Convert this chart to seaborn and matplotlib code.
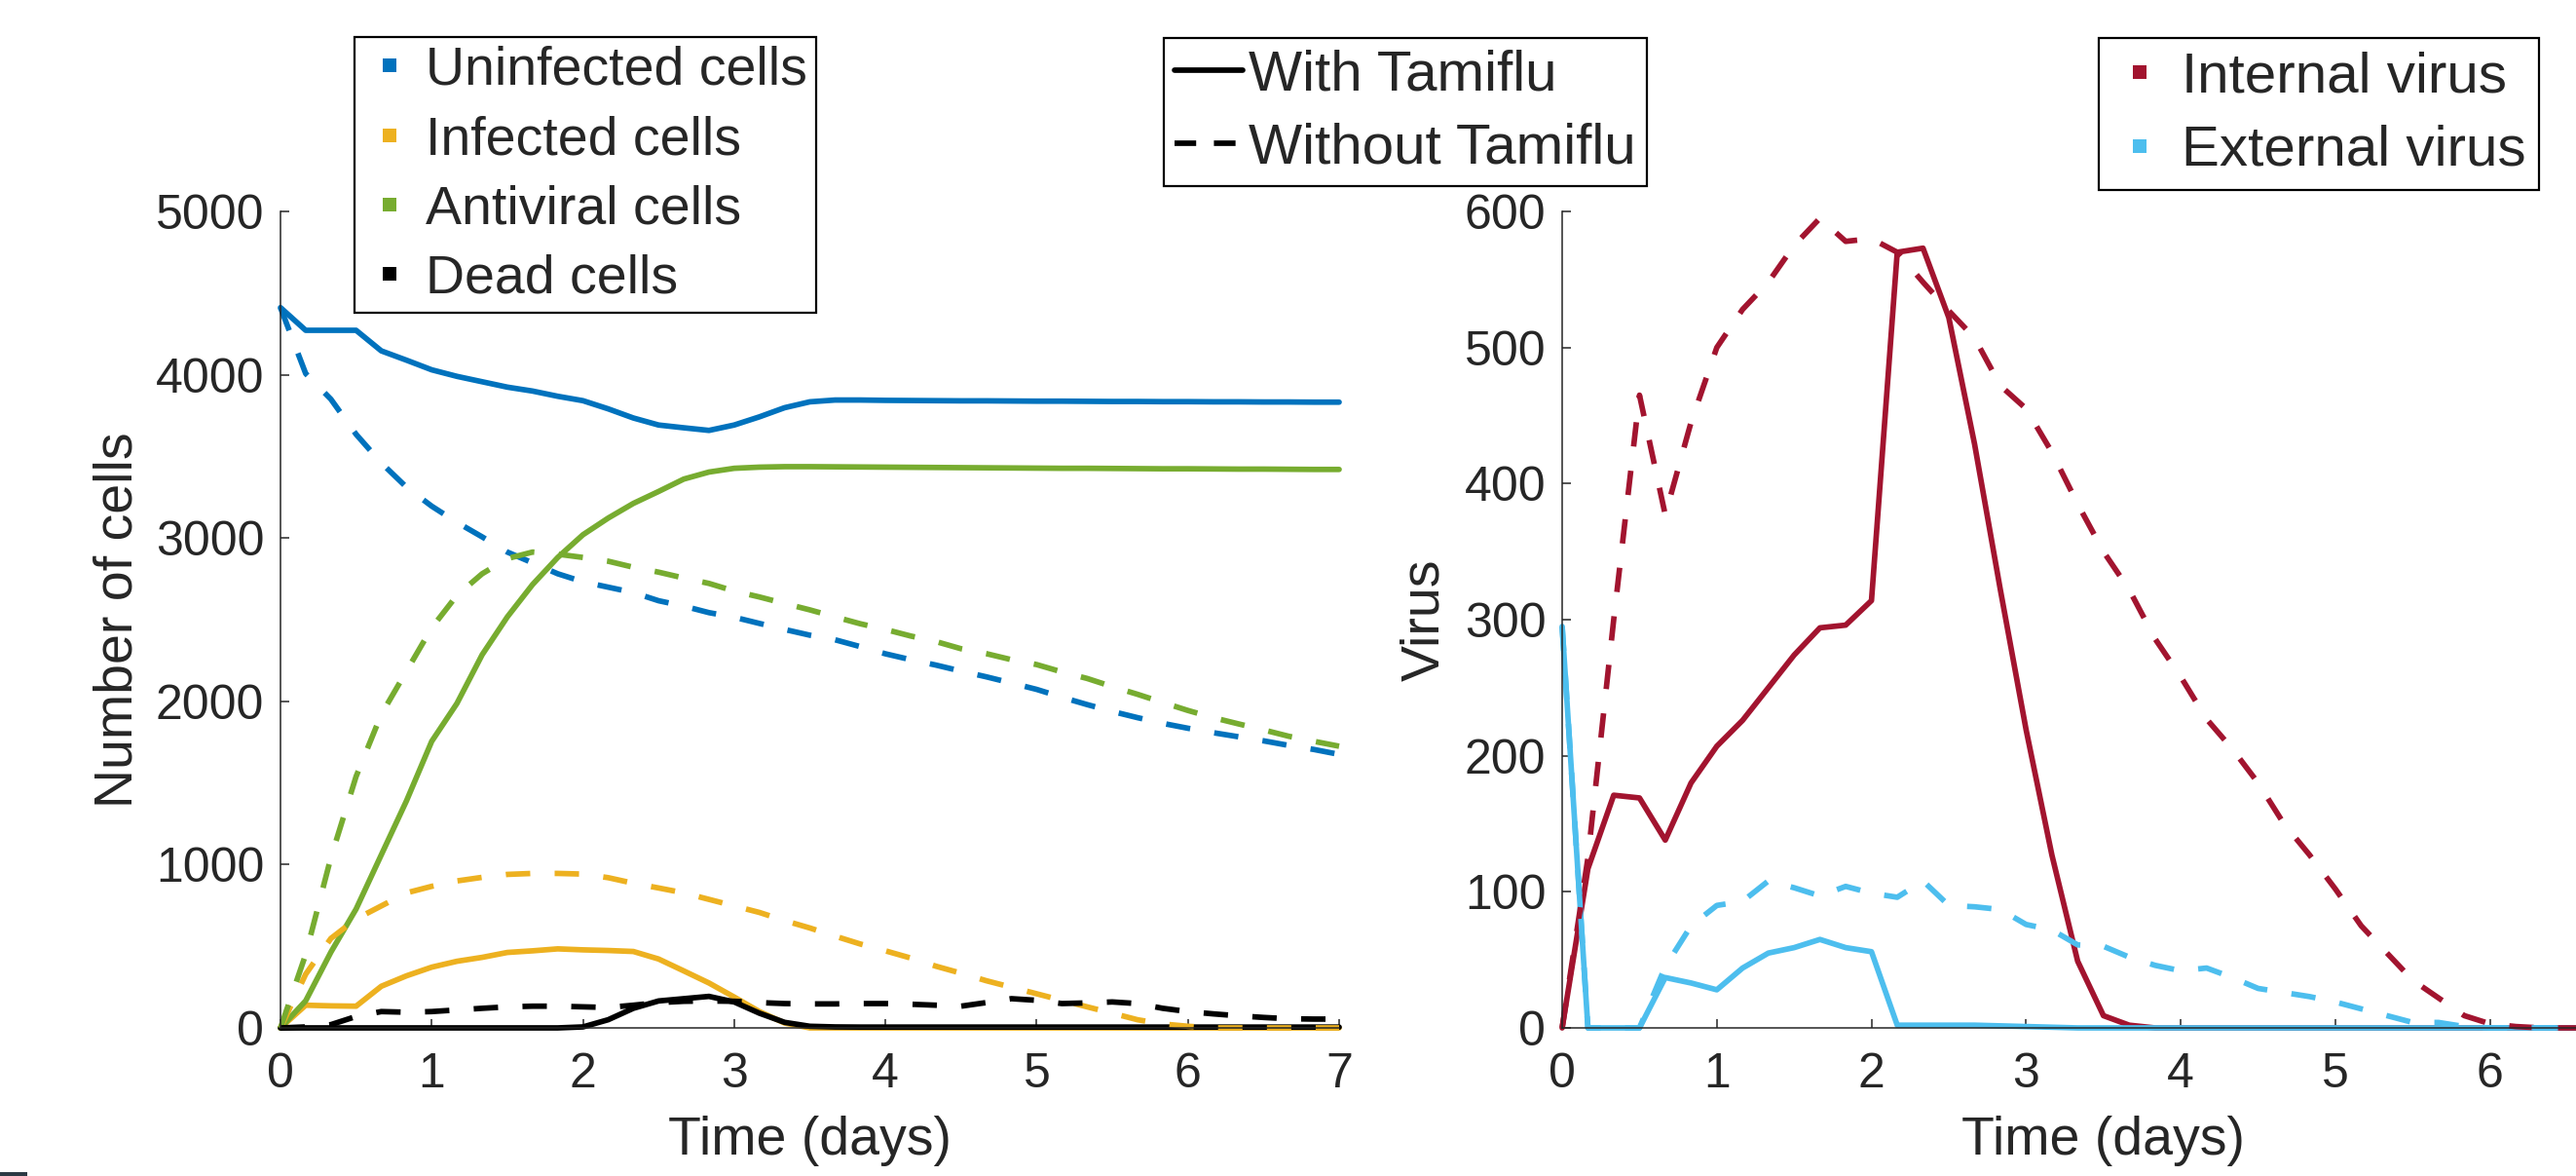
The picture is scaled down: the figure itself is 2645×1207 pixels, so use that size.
import numpy as np
import pandas as pd
import matplotlib
matplotlib.use("Agg")
import matplotlib.pyplot as plt
import seaborn as sns
from matplotlib.lines import Line2D
from matplotlib.patches import Rectangle

# ---------------- data ----------------
hours = [0, 4, 8, 12, 16, 20, 24, 28, 32, 36, 40, 44, 48, 52, 56, 60, 64, 68, 72, 76, 80, 84,
         88, 92, 96, 100, 104, 108, 112, 116, 120, 124, 128, 132, 136, 140, 144, 148, 152,
         156, 160, 164, 168]

cell_types = ["Uninfected cells", "Infected cells", "Antiviral cells", "Dead cells"]
virus_types = ["Internal virus", "External virus"]
treatments = ["With Tamiflu", "Without Tamiflu"]

uninfected_with = [4411, 4272, 4272, 4272, 4146, 4089, 4030, 3990, 3957, 3924, 3900, 3868, 3841,
                   3791, 3735, 3692, 3675, 3659, 3692, 3742, 3798, 3834, 3845, 3845, 3843, 3842,
                   3841, 3840, 3840, 3839, 3838, 3838, 3837, 3836, 3836, 3835, 3835, 3834, 3834,
                   3833, 3833, 3832, 3832]
infected_with = [0, 139, 135, 133, 255, 319, 372, 408, 432, 462, 472, 484, 478, 474, 468, 422,
                 349, 275, 189, 100, 30, 0, 0, 0, 0, 0, 0, 0, 0, 0, 0, 0, 0, 0, 0, 0, 0, 0, 0,
                 0, 0, 0, 0]
antiviral_with = [0, 166, 464, 728, 1060, 1391, 1755, 1987, 2285, 2517, 2715, 2881, 3020, 3122,
                  3212, 3285, 3361, 3404, 3427, 3434, 3437, 3437, 3436, 3435, 3434, 3433, 3432,
                  3431, 3430, 3429, 3428, 3427, 3427, 3426, 3425, 3424, 3424, 3423, 3422, 3422,
                  3421, 3420, 3420]
dead_with = [0, 0, 0, 0, 0, 0, 0, 0, 0, 0, 0, 0, 6, 50, 120, 165, 179, 193, 159, 90, 34, 10, 6,
             5, 5, 5, 5, 5, 5, 5, 5, 5, 5, 5, 5, 5, 5, 5, 5, 5, 5, 5, 5]

uninfected_without = [4411, 4007, 3850, 3635, 3460, 3311, 3195, 3096, 3007, 2914, 2848, 2781,
                      2732, 2699, 2666, 2616, 2583, 2543, 2515, 2477, 2440, 2405, 2377, 2335,
                      2291, 2255, 2222, 2185, 2150, 2112, 2073, 2025, 1980, 1938, 1900, 1865,
                      1835, 1808, 1783, 1758, 1730, 1705, 1675]
infected_without = [0, 329, 548, 667, 747, 827, 867, 900, 922, 940, 946, 946, 942, 920, 886, 857,
                    827, 787, 747, 707, 657, 612, 562, 514, 472, 428, 378, 335, 289, 249, 209,
                    169, 129, 90, 50, 24, 10, 0, 0, 0, 0, 0, 0]
antiviral_without = [0, 450, 1043, 1540, 1920, 2185, 2450, 2649, 2781, 2874, 2914, 2901, 2881,
                     2858, 2821, 2791, 2755, 2722, 2675, 2639, 2599, 2560, 2517, 2475, 2440,
                     2400, 2366, 2322, 2292, 2255, 2225, 2180, 2140, 2090, 2043, 1993, 1944,
                     1900, 1862, 1825, 1786, 1755, 1725]
dead_without = [0, 6, 20, 70, 100, 96, 100, 110, 120, 129, 133, 133, 129, 125, 139, 155, 163,
                165, 163, 155, 149, 147, 147, 149, 149, 145, 139, 133, 155, 179, 169, 149, 153,
                159, 149, 120, 100, 86, 74, 64, 56, 54, 54]

internal_with = [0, 117, 171, 169, 138, 180, 207, 226, 250, 274, 294, 296, 314, 570, 573, 522,
                 429, 322, 219, 127, 49, 9, 2, 0, 0, 0, 0, 0, 0, 0, 0, 0, 0, 0, 0, 0, 0, 0, 0, 0,
                 0, 0, 0]
external_with = [295, 0, 0, 0, 37, 33, 28, 44, 55, 59, 65, 59, 56, 2, 2, 2, 2, 1.5, 1, 0.5, 0, 0,
                 0, 0, 0, 0, 0, 0, 0, 0, 0, 0, 0, 0, 0, 0, 0, 0, 0, 0, 0, 0, 0]
internal_without = [0, 125, 300, 465, 377, 445, 500, 528, 548, 575, 595, 578, 580, 570, 548, 527,
                    507, 472, 455, 423, 385, 350, 322, 286, 258, 227, 205, 180, 150, 127, 102, 75,
                    55, 35, 22, 9, 3, 1, 0, 0, 0, 0, 0]
external_without = [295, 0, 0, 0, 45, 75, 90, 93, 108, 103, 97, 104, 99, 96, 108, 90, 89, 87, 76,
                    72, 61, 60, 52, 46, 42, 44, 37, 29, 26, 23, 19, 14, 9, 4, 4, 1, 0, 0, 0, 0, 0,
                    0, 0]

cell_colors = ["#0072BD", "#EDB120", "#77AC30", "#000000"]
virus_colors = ["#A2142F", "#4DBEEE"]

# ---------------- tidy tables ----------------
days = np.array(hours) / 24.0


def long_table(series_by_name, treatment):
    frames = []
    for name, vals in series_by_name.items():
        frames.append(pd.DataFrame({"time": days, "value": vals, "group": name,
                                    "treatment": treatment}))
    return pd.concat(frames, ignore_index=True)


cells_with = long_table(dict(zip(cell_types, [uninfected_with, infected_with,
                                              antiviral_with, dead_with])), treatments[0])
cells_without = long_table(dict(zip(cell_types, [uninfected_without, infected_without,
                                                 antiviral_without, dead_without])), treatments[1])
virus_with = long_table(dict(zip(virus_types, [internal_with, external_with])), treatments[0])
virus_without = long_table(dict(zip(virus_types, [internal_without, external_without])),
                           treatments[1])

# ---------------- style ----------------
sns.set_theme(style="white")
plt.rcParams["font.family"] = ["Liberation Sans", "DejaVu Sans"]
plt.rcParams["axes.linewidth"] = 1.1

W, H = 2645, 1207
fig = plt.figure(figsize=(W / 100, H / 100), dpi=100)
fig.patch.set_facecolor("white")

GRAY = "#262626"
LW = 4.1
DASH = (0, (4.4, 4.4))


def px_axes(left, top, right, bottom):
    return fig.add_axes([left / W, (H - bottom) / H, (right - left) / W, (bottom - top) / H])


ax1 = px_axes(288, 217, 1375, 1055)
ax2 = px_axes(1604, 217, 1604 + 7 * 158.8, 1055)

cell_pal = dict(zip(cell_types, cell_colors))
virus_pal = dict(zip(virus_types, virus_colors))

sns.lineplot(data=cells_with, x="time", y="value", hue="group", palette=cell_pal,
             hue_order=cell_types, legend=False, ax=ax1, lw=LW, errorbar=None,
             sort=False, clip_on=False)
sns.lineplot(data=cells_without, x="time", y="value", hue="group", palette=cell_pal,
             hue_order=cell_types, legend=False, ax=ax1, lw=LW, errorbar=None,
             sort=False, clip_on=False, linestyle=DASH)
sns.lineplot(data=virus_with, x="time", y="value", hue="group", palette=virus_pal,
             hue_order=virus_types, legend=False, ax=ax2, lw=LW, errorbar=None,
             sort=False, clip_on=False)
sns.lineplot(data=virus_without, x="time", y="value", hue="group", palette=virus_pal,
             hue_order=virus_types, legend=False, ax=ax2, lw=LW, errorbar=None,
             sort=False, clip_on=False, linestyle=DASH)

for ax, ymax, ystep, ylabel, ylab_x, xt in [(ax1, 5000, 1000, "Number of cells", -0.129, 8),
                                             (ax2, 600, 100, "Virus", -0.103, 7)]:
    ax.set_xlim(0, 7)
    ax.set_ylim(0, ymax)
    ax.set_xticks(range(0, xt))
    ax.set_yticks(range(0, ymax + 1, ystep))
    for s in ["top", "right"]:
        ax.spines[s].set_visible(False)
    for s in ["left", "bottom"]:
        ax.spines[s].set_color(GRAY)
        ax.spines[s].set_linewidth(1.1)
    ax.tick_params(axis="both", direction="in", length=6.5, width=1.1, color=GRAY,
                   labelsize=36, labelcolor=GRAY, left=True, bottom=True)
    ax.tick_params(axis="x", pad=18)
    ax.tick_params(axis="y", pad=12)
    ax.set_xlabel("Time (days)", fontsize=40, color=GRAY, labelpad=14)
    ax.set_ylabel(ylabel, fontsize=40, color=GRAY)
    ax.yaxis.set_label_coords(ylab_x, 0.5)
    ax.set_facecolor("none")

# ---------------- legends ----------------


def frame_style(leg):
    fr = leg.get_frame()
    fr.set_edgecolor("black")
    fr.set_linewidth(1.6)
    fr.set_facecolor("white")
    fr.set_alpha(1)


h1 = [Line2D([], [], marker="s", linestyle="none", markersize=10.5, color=c,
             markeredgewidth=0) for c in cell_colors]
leg1 = fig.legend(h1, cell_types, loc="upper left", bbox_to_anchor=(364 / W, 1 - 38 / H),
                  fontsize=40, frameon=True, fancybox=False, borderpad=0.16,
                  handlelength=0.99, handletextpad=0.17, labelspacing=0.345,
                  borderaxespad=0)
frame_style(leg1)

h2 = [Line2D([], [], color="black", lw=LW),
      Line2D([], [], color="black", lw=LW, linestyle=(0, (3.9, 3.2)))]
leg2 = fig.legend(h2, treatments, loc="upper left", bbox_to_anchor=(1195 / W, 1 - 39 / H),
                  fontsize=42, frameon=True, fancybox=False, borderpad=0.19,
                  handlelength=1.2, handletextpad=0.1, labelspacing=0.37,
                  borderaxespad=0)
frame_style(leg2)

h3 = [Line2D([], [], marker="s", linestyle="none", markersize=10.5, color=c,
             markeredgewidth=0) for c in virus_colors]
leg3 = fig.legend(h3, virus_types, loc="upper left", bbox_to_anchor=(2155 / W, 1 - 39 / H),
                  fontsize=42, frameon=True, fancybox=False, borderpad=0.23,
                  handlelength=0.98, handletextpad=0.24, labelspacing=0.37,
                  borderaxespad=0)
frame_style(leg3)

# small dark mark at the lower-left corner of the original image
fig.add_artist(Rectangle((0, 0), 28 / W, 4 / H, transform=fig.transFigure,
                         color="#2b3a44", lw=0))

fig.savefig("out.png", dpi=100, facecolor="white")
